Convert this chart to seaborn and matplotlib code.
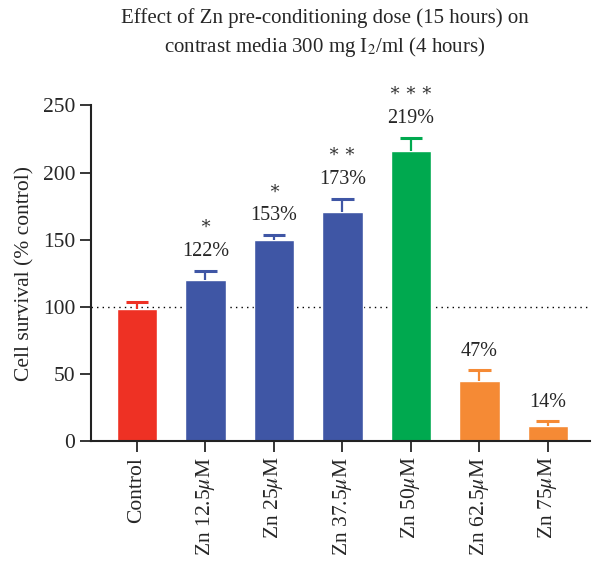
import matplotlib
matplotlib.use("Agg")
import pandas as pd
import seaborn as sns
import matplotlib.pyplot as plt

groups = ["Control", "Zn 12.5$\\mu$M", "Zn 25$\\mu$M", "Zn 37.5$\\mu$M",
          "Zn 50$\\mu$M", "Zn 62.5$\\mu$M", "Zn 75$\\mu$M"]
survival = [98, 120, 150, 170.5, 216, 45, 11.5]
sem = [5.5, 7, 3.5, 10, 10, 7.5, 3]
labels = ["", "122%", "153%", "173%", "219%", "47%", "14%"]
stars = ["", "\u2217", "\u2217", "\u2217\u2009\u2217", "\u2217\u2009\u2217\u2009\u2217", "", ""]
colors = ["#EE3124", "#3F56A5", "#3F56A5", "#3F56A5", "#00A94F", "#F58A35", "#F58A35"]

df = pd.DataFrame({"group": groups, "survival": survival})

sns.set_style("ticks")
plt.rcParams["font.family"] = ["Liberation Serif", "DejaVu Serif"]
plt.rcParams["mathtext.fontset"] = "stix"

fig = plt.figure(figsize=(5.95, 5.61), dpi=100)
ax = fig.add_axes([0.153, 0.214, 0.839, 0.598])

ax.axhline(100, color="black", linestyle=(0, (1, 3)), linewidth=1, zorder=0)
sns.barplot(data=df, x="group", y="survival", hue="group", palette=colors,
            legend=False, width=0.59, saturation=1, ax=ax, zorder=2)

for i, (v, e, c) in enumerate(zip(survival, sem, colors)):
    ax.vlines(i, v, v + e, color=c, linewidth=1.6, zorder=3)
    ax.hlines(v + e, i - 0.165, i + 0.165, color=c, linewidth=2.2, zorder=3)
    if labels[i]:
        ax.annotate(labels[i], (i, v + e), xytext=(0, 14), textcoords="offset points",
                    ha="center", va="center", fontsize=14.5)
    if stars[i]:
        ax.annotate(stars[i], (i, v + e), xytext=(0, 33), textcoords="offset points",
                    ha="center", va="center", fontsize=13, color="#333333")

ax.set_xlim(-0.67, 6.62)
ax.set_ylim(0, 250)
ax.set_yticks([0, 50, 100, 150, 200, 250])
ax.set_xlabel("")
ax.set_ylabel("Cell survival (% control)", fontsize=15.5, labelpad=6)
ax.tick_params(axis="x", labelrotation=90, labelsize=15.5, length=8, width=1.3)
ax.tick_params(axis="y", labelsize=15.5, length=8, width=1.3)
for s in ["left", "bottom"]:
    ax.spines[s].set_linewidth(1.5)
    ax.spines[s].set_color("#222222")
sns.despine(ax=ax)

fig.suptitle("Effect of Zn pre-conditioning dose (15 hours) on\n"
             "contrast media 300 mg I$_2$/ml (4 hours)",
             x=0.546, y=0.985, fontsize=15, linespacing=1.4)

fig.savefig("out.png", dpi=100)
